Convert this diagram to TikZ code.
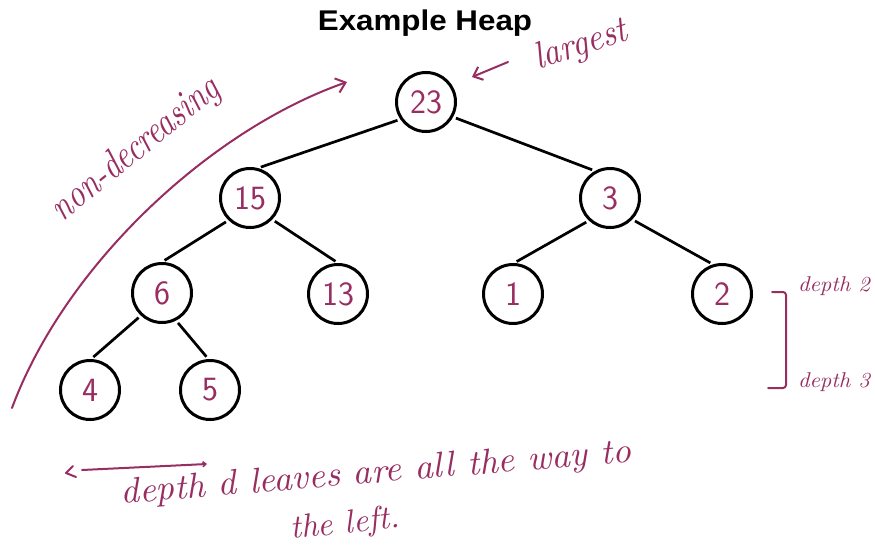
\documentclass[tikz,border=0pt]{standalone}
\usepackage{fontspec}
\newfontfamily\titlefont{Liberation Sans}
\usetikzlibrary{arrows.meta}
\definecolor{hand}{RGB}{152,45,98}
\tikzset{
  heapnode/.style={circle, draw=black, line width=3pt, minimum size=59pt, inner sep=0pt,
    text=hand, font=\sffamily\fontsize{34}{34}\selectfont},
  edge/.style={draw=black, line width=2.7pt, shorten <=3pt, shorten >=3pt},
  handline/.style={draw=hand, line width=2pt, line cap=round, line join=round},
  handtext/.style={text=hand, inner sep=0pt, font=\itshape},
  barb/.style={-{Straight Barb[length=9pt,width=15pt,line width=2pt]}}
}
\begin{document}
\begin{tikzpicture}[x=1pt,y=-1pt]
\useasboundingbox (0,0) rectangle (875,546);
% title
\node[inner sep=0pt, anchor=base] (title) at (425,30)
  {\scalebox{1.1}[1]{\titlefont\bfseries\fontsize{28.5}{28.5}\selectfont Example Heap}};
% heap nodes
\node[heapnode] (n23) at (426,102) {23};
\node[heapnode] (n15) at (250,198) {15};
\node[heapnode] (n3)  at (610,198) {3};
\node[heapnode] (n6)  at (162,293) {6};
\node[heapnode] (n13) at (338,294) {13};
\node[heapnode] (n1)  at (513,294) {1};
\node[heapnode] (n2)  at (722,294) {2};
\node[heapnode] (n4)  at (90,390)  {4};
\node[heapnode] (n5)  at (210,390) {5};
% edges
\draw[edge] (n23.214) -- (n15.75);
\draw[edge] (n23.-29) -- (n3.119);
\draw[edge] (n15.226) -- (n6.90);
\draw[edge] (n15.-44) -- (n13.90);
\draw[edge] (n3.227) -- (n1.88);
\draw[edge] (n3.-44) -- (n2.107);
\draw[edge] (n6.227) -- (n4.88);
\draw[edge] (n6.-63) -- (n5.93);
% largest
\coordinate (lgtail) at (508,62);
\draw[handline, -{Straight Barb[length=8pt,width=14pt,line width=2pt]}] (lgtail) -- (472,77);
\node[handtext, rotate=18] (largest) at (581,46) {\resizebox*{96pt}{34pt}{largest}};
% non-decreasing arc
\coordinate (arcstart) at (12,408);
\coordinate (arcend) at (347,82);
\draw[handline, barb] (arcstart) .. controls (65,265) and (210,130) .. (arcend);
\node[handtext, rotate=39] (nondec) at (136,150) {\resizebox*{205pt}{36pt}{non-decreasing}};
% depth bracket
\coordinate (bt1) at (772,292);
\coordinate (bt2) at (786,292);
\coordinate (bb1) at (786,388);
\coordinate (bb2) at (768,388);
\draw[handline, rounded corners=3pt] (bt1) -- (bt2) -- (bb1) -- (bb2);
\node[handtext] (d2) at (834,286) {\resizebox*{72pt}{19pt}{depth 2}};
\node[handtext] (d3) at (834,382) {\resizebox*{72pt}{19pt}{depth 3}};
% bottom arrow
\coordinate (ba1) at (82,470);
\coordinate (ba2) at (207,464);
\draw[handline, -{Straight Barb[length=3pt,width=5pt,line width=1.6pt]}] (ba1) -- (ba2);
\coordinate (ch1) at (73,466);
\coordinate (ch2) at (66,473);
\coordinate (ch3) at (76,477);
\draw[handline] (ch1) -- (ch2) -- (ch3);
% bottom text
\node[handtext, rotate=4.7] (leaves) at (376,474) {\resizebox*{512pt}{32pt}{depth d leaves are all the way to}};
\node[handtext, rotate=6] (left) at (345,525) {\resizebox*{110pt}{30pt}{the left.}};
\end{tikzpicture}
\end{document}
